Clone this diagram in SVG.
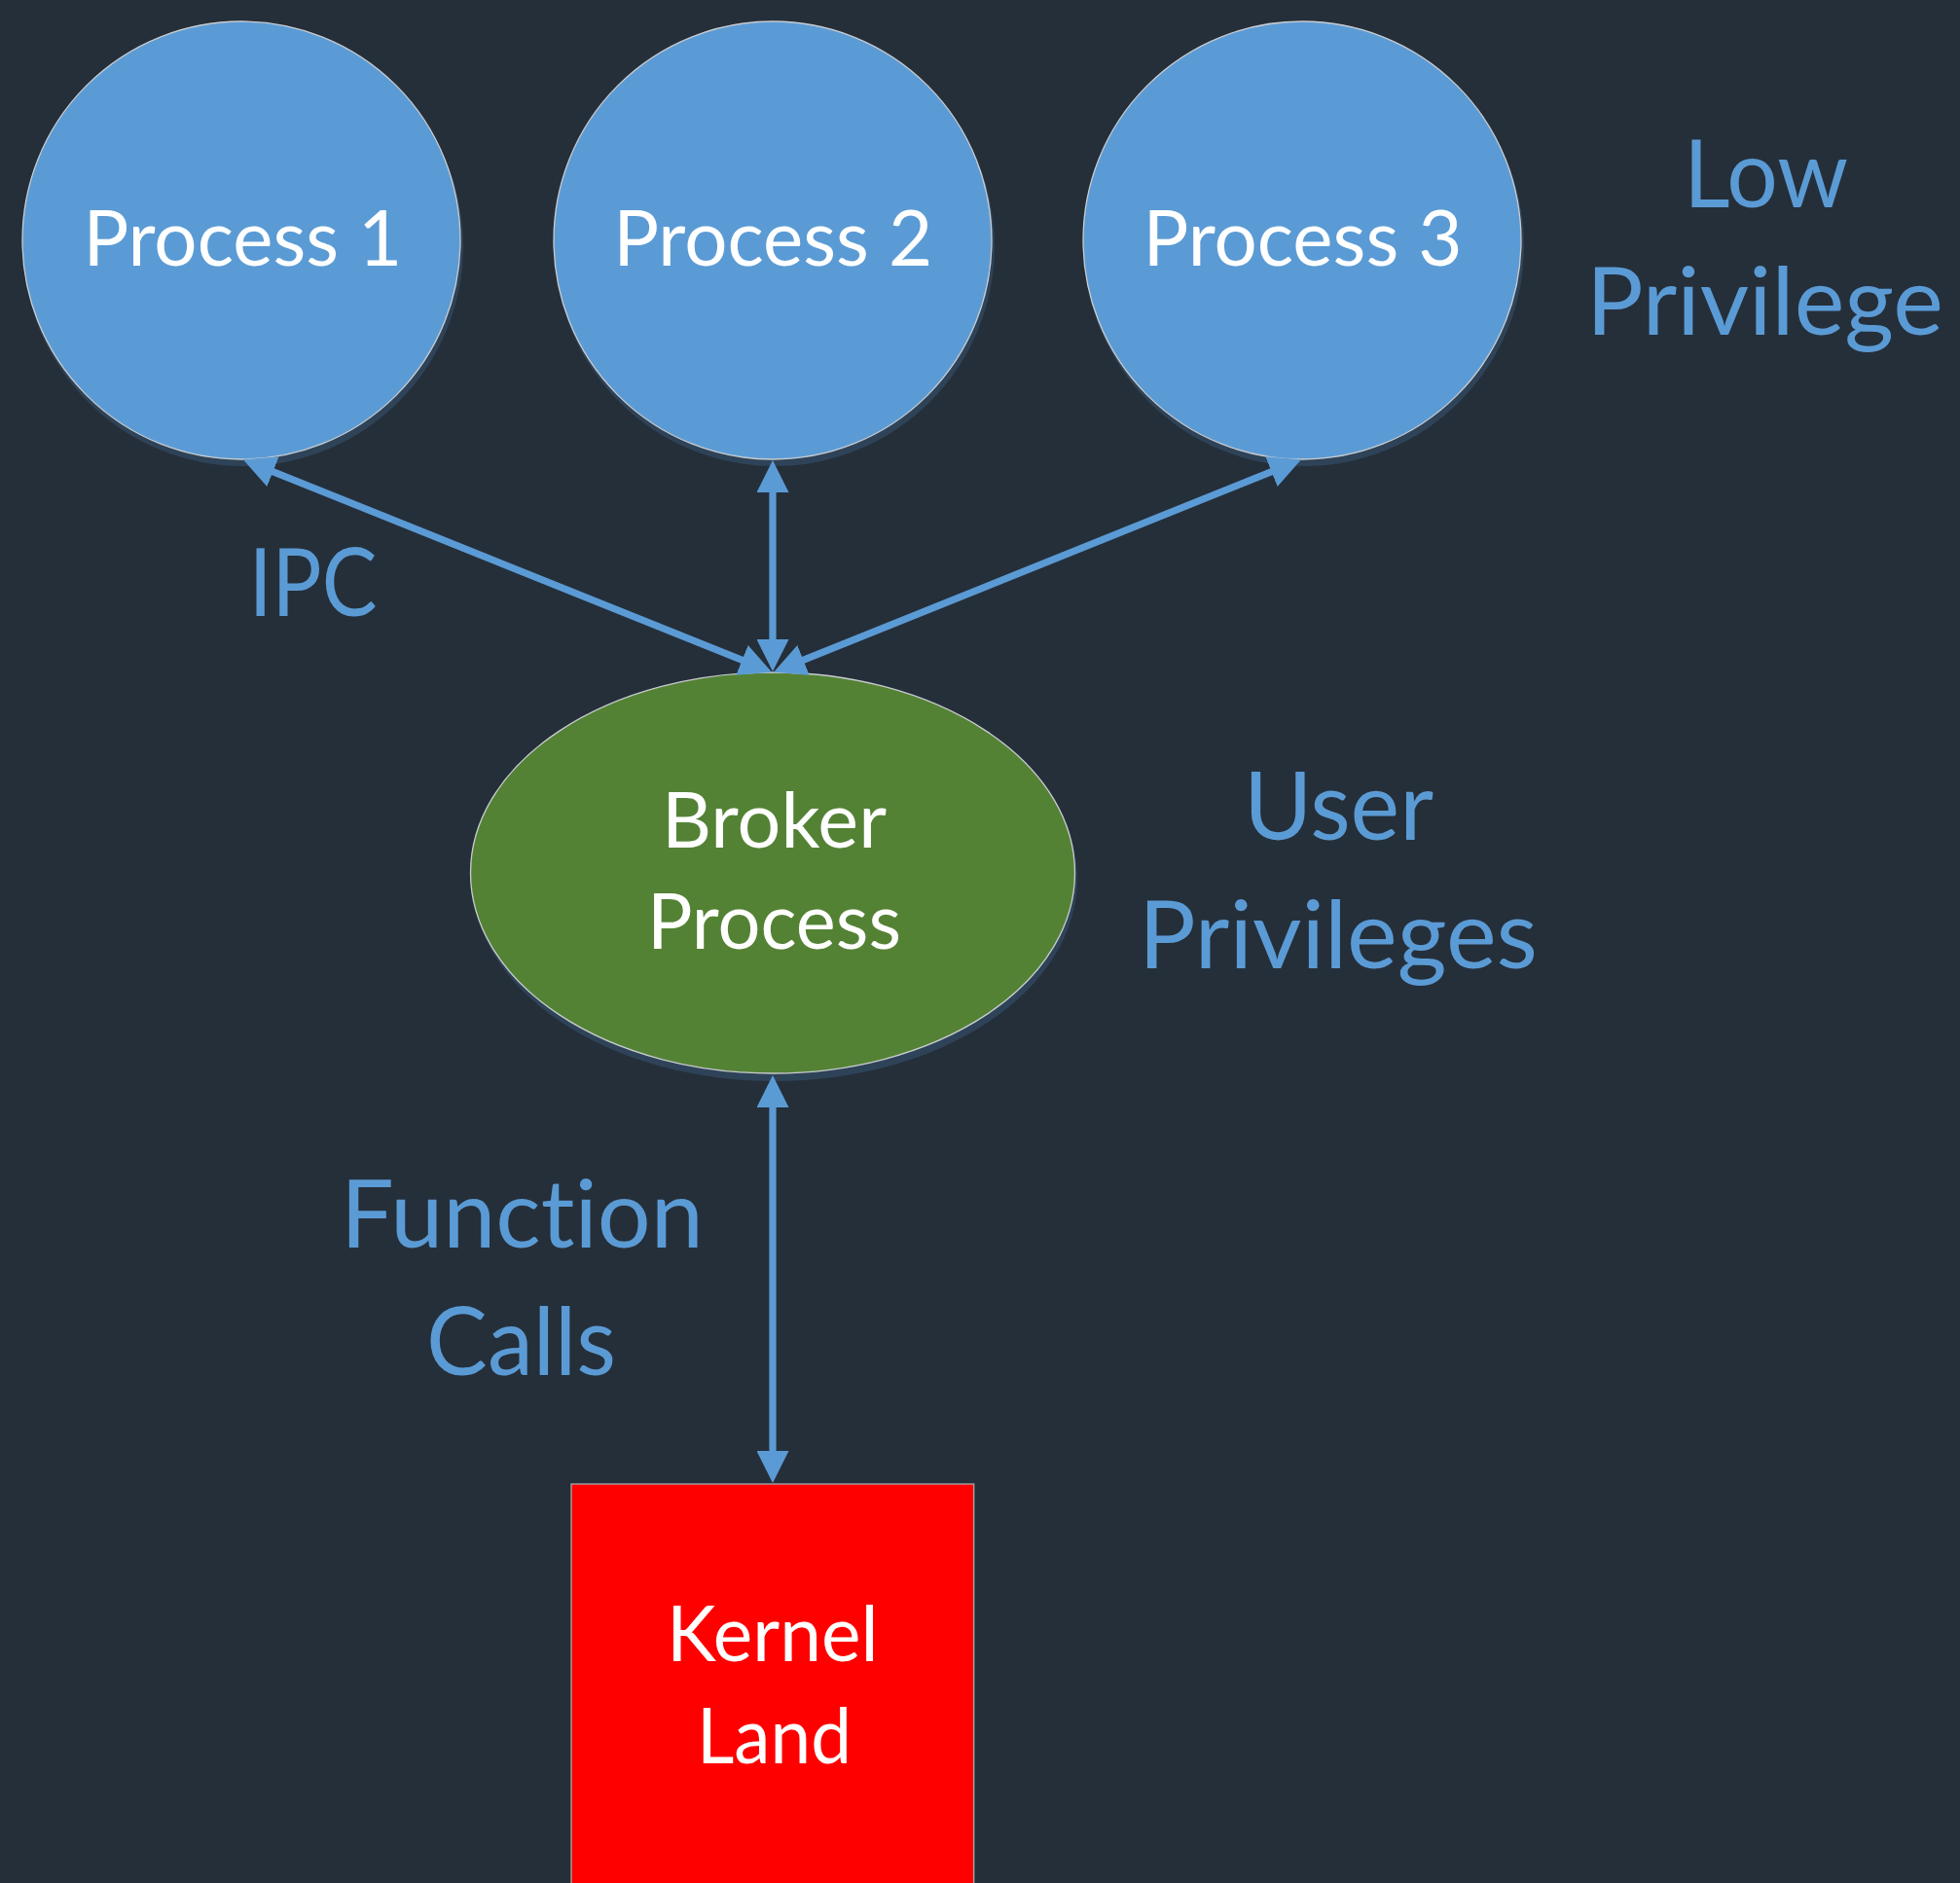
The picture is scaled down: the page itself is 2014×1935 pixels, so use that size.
<svg xmlns="http://www.w3.org/2000/svg" width="2014" height="1935" viewBox="0 0 2014 1935">
  <style>
    .bg { fill: #252F3A; }
    .shadow { fill: #2E4358; }
    .proc { fill: #5B9BD5; stroke: #C9CCD0; stroke-width: 1.3; }
    .broker { fill: #548235; stroke: #C9CCD0; stroke-width: 1.3; }
    .kernel { fill: #FF0000; stroke: #A9A9A9; stroke-width: 1.3; }
    text { font-variant-ligatures: none; font-feature-settings: "liga" 0, "clig" 0; }
    .node-label { font-family: Lato, "Open Sans", sans-serif; font-size: 79px; fill: #FFFFFF; text-anchor: middle; }
    .note { font-family: Lato, "Open Sans", sans-serif; font-size: 97px; fill: #5B9BD5; text-anchor: middle; }
    .link { stroke: #5B9BD5; stroke-width: 7.2; fill: none; marker-start: url(#head); marker-end: url(#head); }
  </style>
  <defs>
    <marker id="head" viewBox="0 0 33 33" refX="1" refY="16.5" markerWidth="33" markerHeight="33" markerUnits="userSpaceOnUse" orient="auto-start-reverse">
      <path d="M0,0 L33,16.5 L0,33 Z" fill="#5B9BD5"/>
    </marker>
  </defs>

  <rect class="bg" x="0" y="0" width="2014" height="1935"/>

  <!-- low-privilege processes -->
  <g id="process1">
    <circle class="shadow" cx="250" cy="253" r="226"/>
    <circle class="proc" cx="248" cy="247" r="225"/>
    <text class="node-label" x="249.4" y="273" textLength="328" lengthAdjust="spacingAndGlyphs">Process 1</text>
  </g>
  <g id="process2">
    <circle class="shadow" cx="796" cy="253" r="226"/>
    <circle class="proc" cx="794" cy="247" r="225"/>
    <text class="node-label" x="794.2" y="273" textLength="328" lengthAdjust="spacingAndGlyphs">Process 2</text>
  </g>
  <g id="process3">
    <circle class="shadow" cx="1340" cy="253" r="226"/>
    <circle class="proc" cx="1338" cy="247" r="225"/>
    <text class="node-label" x="1338.5" y="273" textLength="328" lengthAdjust="spacingAndGlyphs">Process 3</text>
  </g>

  <!-- broker -->
  <g id="broker">
    <ellipse class="shadow" cx="796" cy="903" rx="311" ry="208"/>
    <ellipse class="broker" cx="794" cy="897" rx="310.5" ry="206"/>
    <text class="node-label" x="795.5" y="871" textLength="231" lengthAdjust="spacingAndGlyphs">Broker</text>
    <text class="node-label" x="795.5" y="975" textLength="261" lengthAdjust="spacingAndGlyphs">Process</text>
  </g>

  <!-- kernel -->
  <g id="kernel">
    <rect class="kernel" x="587" y="1525" width="413.7" height="420"/>
    <text class="node-label" x="793.8" y="1707" textLength="217.7" lengthAdjust="spacingAndGlyphs">Kernel</text>
    <text class="node-label" x="795.5" y="1812" textLength="159" lengthAdjust="spacingAndGlyphs">Land</text>
  </g>

  <!-- connectors -->
  <g id="connectors">
    <line class="link" x1="279.6" y1="484.3" x2="763.4" y2="678.7"/>
    <line class="link" x1="794" y1="505" x2="794" y2="658"/>
    <line class="link" x1="1307.4" y1="484.3" x2="824.6" y2="678.7"/>
    <line class="link" x1="794" y1="1137" x2="794" y2="1492"/>
  </g>

  <!-- annotations -->
  <g id="labels">
    <text class="note" x="321.6" y="633" textLength="131.7" lengthAdjust="spacingAndGlyphs">IPC</text>
    <text class="note" x="1814.5" y="213" textLength="169" lengthAdjust="spacingAndGlyphs">Low</text>
    <text class="note" x="1813.4" y="344" textLength="367" lengthAdjust="spacingAndGlyphs">Privilege</text>
    <text class="note" x="1375.5" y="863" textLength="195" lengthAdjust="spacingAndGlyphs">User</text>
    <text class="note" x="1375" y="995" textLength="410" lengthAdjust="spacingAndGlyphs">Privileges</text>
    <text class="note" x="536.4" y="1282" textLength="372.7" lengthAdjust="spacingAndGlyphs">Function</text>
    <text class="note" x="535.5" y="1413" textLength="195" lengthAdjust="spacingAndGlyphs">Calls</text>
  </g>
</svg>
